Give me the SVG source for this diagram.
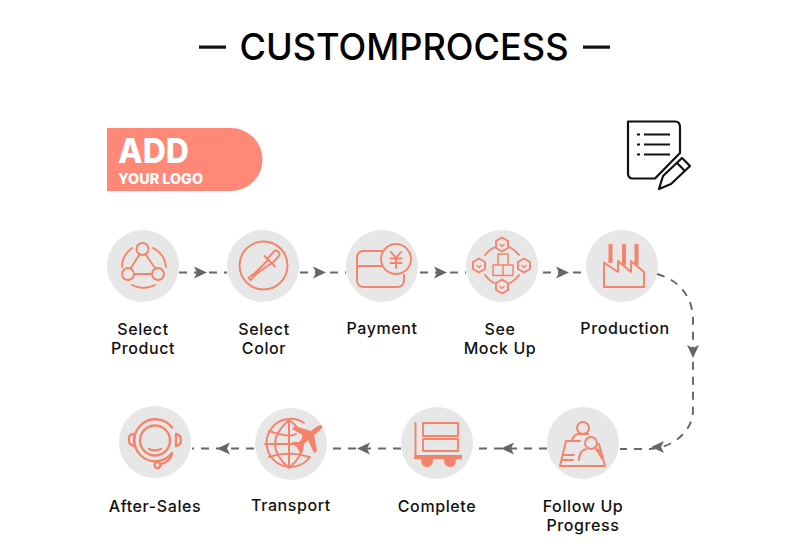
<svg xmlns="http://www.w3.org/2000/svg" width="800" height="547" viewBox="0 0 800 547">
<style>
text{font-family:"Inter","Liberation Sans",sans-serif;fill:#111}
.lbl{font-size:16px;font-weight:500;text-anchor:middle;letter-spacing:.6px}
.bg{fill:#e7e7e7}
.ic{fill:none;stroke:#f5836c;stroke-width:1.9;stroke-linejoin:round;stroke-linecap:round}
.fl{fill:#f5836c;stroke:none}
.dash{fill:none;stroke:#666;stroke-width:1.9;stroke-dasharray:8 7}
.ah{fill:#666}
.bk{fill:none;stroke:#111;stroke-width:2.200;stroke-linejoin:round}
</style>
<defs>
<path id="ar" class="ah" d="M-6-6L7 0L-6 6L-3 0Z"/>
</defs>
<g id="title">
<text x="404" y="60" font-size="37" font-weight="500" text-anchor="middle" textLength="329" lengthAdjust="spacingAndGlyphs" style="fill:#000">CUSTOMPROCESS</text>
<rect x="199" y="45.500" width="27" height="3.200" fill="#111"/>
<rect x="583" y="45.500" width="27" height="3.200" fill="#111"/>
</g>
<g id="logo">
<path d="M107 128H231A31.500 31.500 0 0 1 231 191H107Z" fill="#ff8877"/>
<text x="118" y="163" font-size="34" font-weight="800" style="fill:#fff" textLength="71" lengthAdjust="spacingAndGlyphs">ADD</text>
<text x="118" y="184" font-size="15" font-weight="800" style="fill:#fff" textLength="85" lengthAdjust="spacingAndGlyphs">YOUR LOGO</text>
</g>
<g id="note-icon">
<path class="bk" d="M628 121.500H675Q680 121.500 680 127V153L655 178.500H633Q628 178.500 628 173.500Z"/>
<path class="bk" d="M637 134.500H640M644 134.500H670M637 144.500H640M644 144.500H670M637 154.500H640M644 154.500H670"/>
<path class="bk" d="M659 189L663 176L682 158L690 166L671 184ZM677 163L685 171"/>
</g>
<g id="connectors">
<path class="dash" d="M179 272.500H227"/><use href="#ar" x="200" y="272.500"/>
<path class="dash" d="M300 272.500H346"/><use href="#ar" x="319" y="272.500"/>
<path class="dash" d="M420 272.500H466"/><use href="#ar" x="440" y="272.500"/>
<path class="dash" d="M543 272.500H586"/><use href="#ar" x="562" y="272.500"/>
<path class="dash" d="M657 274C680 280 693 298 693 320V410C693 432 672 448 650 449H620"/>
<use href="#ar" transform="translate(693 351) rotate(90)"/>
<use href="#ar" transform="translate(658 447) rotate(180)"/>
<path class="dash" d="M547 448.500H474"/><use href="#ar" transform="translate(508 448.500) rotate(180)"/>
<path class="dash" d="M401 448.500H327"/><use href="#ar" transform="translate(364 448.500) rotate(180)"/>
<path class="dash" d="M254 448.500H192"/><use href="#ar" transform="translate(224 448.500) rotate(180)"/>
</g>
<g id="n1"><circle class="bg" cx="143" cy="266" r="36"/>
<g class="ic"><circle cx="142.500" cy="249" r="6"/><circle cx="128" cy="274" r="6"/><circle cx="158" cy="274" r="6"/>
<path d="M139.500 254.500L130.500 268.500M145.500 254.500L155.500 268.500M134 274H152M122 267A24 24 0 0 1 132 248M153 248A24 24 0 0 1 166 267M132 285Q143 291 155 285"/></g>
<text class="lbl" x="143" y="334.500">Select<tspan x="143" dy="19.500">Product</tspan></text></g>
<g id="n2"><circle class="bg" cx="263" cy="266" r="36"/>
<g class="ic"><circle cx="263.500" cy="265.500" r="24"/>
<path d="M268.500 257.500L274 251.500Q276 249.500 278.500 252Q280.500 254.500 278.500 256.500L273 262.500M264.500 256L275 266.500M268 260L255 273L250 276.500L248.500 278L250.500 280L252 278.500L256 274L271 263.500"/></g>
<text class="lbl" x="264" y="334.500">Select<tspan x="264" dy="19.500">Color</tspan></text></g>
<g id="n3"><circle class="bg" cx="382" cy="266" r="36"/>
<g class="ic"><path d="M383 251H364Q357 251 357 258V280Q357 287 364 287H397Q404 287 404 280V275M357 266H382"/>
<circle cx="396" cy="259" r="15"/><path d="M391 252L396 258L401 252M396 258V268M390.500 258.500H401.500M390.500 263H401.500"/></g>
<text class="lbl" x="382" y="334">Payment</text></g>
<g id="n4"><circle class="bg" cx="502" cy="266" r="36"/>
<g class="ic"><path d="M510 247.500A23 23 0 0 1 519 255M519 275A23 23 0 0 1 510 283M494 283A23 23 0 0 1 485 275M485 255A23 23 0 0 1 494 247.500"/>
<path d="M502 237.500L508 241V248L502 251.500L496 248V241ZM479 258.500L485 262V269L479 272.500L473 269V262ZM524 258.500L530 262V269L524 272.500L518 269V262ZM502 279.500L508 283V290L502 293.500L496 290V283Z"/>
<path d="M498 254H508V265H498ZM493 265H503V275.500H493ZM503 265H513V275.500H503Z" stroke-width="1.500"/>
<path d="M500 244.500L502 246.500L504 244.500M477 265.500L479 267.500L481 265.500M522 265.500L524 267.500L526 265.500M500 286.500L502 288.500L504 286.500" stroke-width="1.400"/></g>
<text class="lbl" x="500" y="334.500">See<tspan x="500" dy="19.500">Mock Up</tspan></text></g>
<g id="n5"><circle class="bg" cx="622" cy="266" r="36"/>
<g class="ic"><path d="M604 287V262.500L618 272V261L631 272V261L644 272V287Z"/></g>
<path class="fl" d="M608.500 244H612.500V263H608.500ZM622 244H626V265H622ZM634.500 244H638.500V265H634.500Z"/>
<text class="lbl" x="625" y="334">Production</text></g>
<g id="n6"><circle class="bg" cx="583" cy="443" r="36"/>
<g class="ic"><circle cx="583" cy="428" r="6"/><circle cx="591" cy="443" r="6"/>
<path d="M572 441Q573 435 578 434H588M566 441H580M566 441L560 466H605L599 444M579 460Q579 451 586 449M596 449Q603 451 603 460ZM563 455H574M562 460H573"/></g>
<text class="lbl" x="583" y="511.500">Follow Up<tspan x="583" dy="19.500">Progress</tspan></text></g>
<g id="n7"><circle class="bg" cx="437" cy="443" r="36"/>
<g class="ic"><path d="M415.500 423V456M423 423H458V436H423ZM423 439H458V451H423Z"/></g>
<path class="fl" d="M414 455H462V459H414Z"/><path class="fl" d="M421 459H433Q433 467 427 467Q421 467 421 459ZM444 459H456Q456 467 450 467Q444 467 444 459Z"/>
<text class="lbl" x="437" y="512">Complete</text></g>
<g id="n8"><circle class="bg" cx="291" cy="444" r="36"/>
<g class="ic" style="stroke-width:2"><path d="M304 423A24 24 0 1 0 310 457"/><path d="M289 420Q275 432 275 444Q275 456 289 468Q303 456 303 444V436M289 420Q295 424 299 430M289 420V468M265 444H300M269 431Q289 438 296 434M269 457Q289 450 309 457"/></g>
<path class="fl" d="M322 425.500Q324 428 314 435L317 451L314 453L308 440L302 446L303 451L300 453L297 447L291 444L293 442L299 442L304 436L292 429L295 426L311 431Q319 424 322 425.500Z" stroke="#e7e7e7"/>
<text class="lbl" x="291" y="511">Transport</text></g>
<g id="n9"><circle class="bg" cx="155" cy="442" r="36"/>
<g class="ic" style="stroke-width:2.300"><path d="M172 453A21 21 0 1 1 172 427.500M172 454Q170 462 161 464"/><circle cx="155" cy="440.500" r="15"/>
<path d="M149 449Q155 452 161 449"/><circle cx="157.500" cy="465" r="3"/><path d="M134 434Q128 434 129 440Q129 445 134 446ZM176 434Q181 435 181 440Q181 445 176 446Z"/></g>
<text class="lbl" x="155" y="512">After-Sales</text></g>
</svg>
